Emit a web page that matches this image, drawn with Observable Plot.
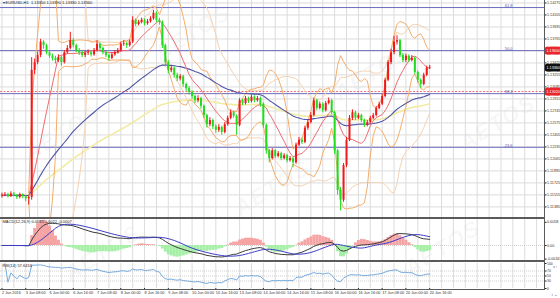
<!DOCTYPE html>
<html><head><meta charset="utf-8">
<script src="https://cdn.jsdelivr.net/npm/d3@7"></script>
<script src="https://cdn.jsdelivr.net/npm/@observablehq/plot@0.6"></script>
<style>
html,body{margin:0;padding:0;background:#fff;}
#chart{position:relative;width:560px;height:298px;overflow:hidden;background:#fff;font-family:"Liberation Sans",Arial,sans-serif;}
#chart svg{position:absolute;left:0;background:transparent;}
.hl{position:absolute;left:0;width:545px;background:#5a5a5a;}
.vl{position:absolute;left:544px;top:0;width:1px;height:290px;background:#5a5a5a;}
.wm{position:absolute;font:bold italic 22px "Liberation Sans",Arial,sans-serif;color:rgba(0,0,0,0.045);transform:rotate(-32deg);letter-spacing:2px;pointer-events:none;}
</style></head><body><div id="chart"></div>
<script>
// ---------- data (EURUSD, 2 Jun – 20 Jun 2016) ----------
const firstOpen = 1.1154;
const closes = [1.1155,1.1156,1.1153,1.1157,1.1155,1.1152,1.1156,1.1153,1.1150,1.1152,
1.1332,1.1343,1.1353,1.1372,1.1367,1.1357,1.1352,1.1349,1.1346,1.1350,
1.1343,1.1357,1.1363,1.1374,1.1367,1.1360,1.1357,1.1353,1.1356,1.1357,
1.1354,1.1360,1.1369,1.1363,1.1357,1.1353,1.1349,1.1354,1.1357,1.1360,
1.1369,1.1370,1.1367,1.1372,1.1403,1.1397,1.1400,1.1403,1.1398,1.1401,
1.1405,1.1413,1.1403,1.1400,1.1367,1.1343,1.1332,1.1335,1.1325,1.1320,
1.1323,1.1312,1.1306,1.1301,1.1295,1.1289,1.1292,1.1281,1.1268,1.1255,
1.1261,1.1252,1.1247,1.1251,1.1244,1.1255,1.1264,1.1272,1.1267,1.1254,
1.1289,1.1285,1.1292,1.1288,1.1294,1.1289,1.1292,1.1284,1.1254,1.1218,
1.1207,1.1218,1.1210,1.1214,1.1207,1.1211,1.1204,1.1207,1.1201,1.1226,
1.1233,1.1230,1.1250,1.1258,1.1268,1.1289,1.1278,1.1284,1.1275,1.1285,
1.1289,1.1272,1.1218,1.1162,1.1148,1.1197,1.1233,1.1264,1.1272,1.1264,
1.1268,1.1261,1.1254,1.1258,1.1264,1.1268,1.1278,1.1284,1.1295,1.1318,
1.1343,1.1357,1.1372,1.1374,1.1353,1.1346,1.1352,1.1346,1.1349,1.1329,
1.1318,1.1312,1.1325,1.1335,1.1336];
const highs = [1.1158,1.1159,1.1158,1.1160,1.1159,1.1156,1.1158,1.1157,1.1155,1.1154,
1.1350,1.1348,1.1358,1.1376,1.1374,1.1369,1.1360,1.1355,1.1352,1.1354,
1.1352,1.1360,1.1367,1.1386,1.1377,1.1369,1.1363,1.1359,1.1359,1.1361,
1.1359,1.1363,1.1374,1.1371,1.1365,1.1359,1.1355,1.1357,1.1360,1.1363,
1.1372,1.1374,1.1372,1.1375,1.1408,1.1405,1.1403,1.1406,1.1405,1.1404,
1.1408,1.1417,1.1415,1.1406,1.1402,1.1369,1.1346,1.1339,1.1337,1.1328,
1.1326,1.1325,1.1314,1.1309,1.1303,1.1297,1.1296,1.1294,1.1283,1.1270,
1.1265,1.1263,1.1255,1.1255,1.1253,1.1258,1.1267,1.1276,1.1274,1.1269,
1.1292,1.1291,1.1295,1.1294,1.1297,1.1296,1.1295,1.1294,1.1286,1.1256,
1.1220,1.1221,1.1220,1.1217,1.1216,1.1214,1.1213,1.1210,1.1209,1.1229,
1.1237,1.1236,1.1253,1.1262,1.1272,1.1292,1.1291,1.1287,1.1286,1.1288,
1.1293,1.1291,1.1274,1.1220,1.1166,1.1200,1.1237,1.1268,1.1276,1.1274,
1.1271,1.1270,1.1263,1.1261,1.1267,1.1271,1.1281,1.1287,1.1298,1.1321,
1.1346,1.1362,1.1380,1.1381,1.1376,1.1356,1.1355,1.1354,1.1353,1.1351,
1.1331,1.1320,1.1328,1.1338,1.1339];
const lows = [1.1151,1.1153,1.1151,1.1152,1.1153,1.1149,1.1150,1.1150,1.1146,1.1141,
1.1148,1.1326,1.1340,1.1350,1.1362,1.1354,1.1349,1.1345,1.1341,1.1343,
1.1338,1.1341,1.1355,1.1361,1.1364,1.1357,1.1353,1.1350,1.1350,1.1353,
1.1351,1.1352,1.1358,1.1360,1.1354,1.1350,1.1345,1.1347,1.1352,1.1355,
1.1358,1.1366,1.1363,1.1365,1.1370,1.1394,1.1395,1.1398,1.1395,1.1396,
1.1399,1.1403,1.1400,1.1396,1.1363,1.1338,1.1327,1.1329,1.1321,1.1316,
1.1317,1.1308,1.1302,1.1297,1.1291,1.1285,1.1286,1.1277,1.1264,1.1250,
1.1252,1.1248,1.1243,1.1244,1.1240,1.1242,1.1253,1.1262,1.1264,1.1240,
1.1252,1.1282,1.1283,1.1285,1.1286,1.1286,1.1287,1.1280,1.1250,1.1213,
1.1201,1.1205,1.1207,1.1208,1.1204,1.1205,1.1201,1.1202,1.1194,1.1199,
1.1224,1.1227,1.1228,1.1247,1.1256,1.1266,1.1275,1.1276,1.1272,1.1273,
1.1283,1.1269,1.1213,1.1155,1.1133,1.1145,1.1194,1.1231,1.1261,1.1261,
1.1262,1.1258,1.1251,1.1252,1.1256,1.1262,1.1266,1.1276,1.1282,1.1293,
1.1316,1.1340,1.1354,1.1368,1.1350,1.1343,1.1343,1.1343,1.1344,1.1326,
1.1314,1.1306,1.1310,1.1323,1.1333];
const dateLabels = ["2 Jun 2016","3 Jun 08:00","6 Jun 00:00","6 Jun 16:00","7 Jun 08:00","8 Jun 00:00",
"8 Jun 16:00","9 Jun 08:00","10 Jun 00:00","10 Jun 16:00","13 Jun 08:00","14 Jun 00:00","14 Jun 16:00",
"15 Jun 08:00","16 Jun 00:00","16 Jun 16:00","17 Jun 08:00","20 Jun 00:00","20 Jun 16:00"];
const barsPerLabel = 8;
const barsPerGrid = 4;
const priceTicks = [1.14275,1.14105,1.13935,1.13765,1.13595,1.13425,1.13255,1.13085,1.12915,1.12745,
1.12575,1.12405,1.12235,1.12065,1.11895,1.11725,1.11555,1.11385];
const fibLevels = [1.1421, 1.1360, 1.1299, 1.1223];
const fibNames = ["61.8", "50.0", "38.2", "23.6"];
const alertLevels = [1.1360, 1.1302];
const macdTicks = [0.0058, 0, -0.0034];
const macdTickText = ["0.0058", "0.00", "-0.0034"];
const rsiTicks = [100, 70, 50, 30, 0];
const rsiLevels = [70, 50, 30];

// ---------- scales / layout ----------
const xDomain = [-0.5, 182.66];
const priceDomain = [1.11235, 1.1431];
const macdDomain = [-0.00375, 0.0065];
const FONT = '"Liberation Sans", Arial, sans-serif';
const UP = "#f01818", DOWN = "#1fdc1f";
const AX = 3.7;   // price-scale font size

// ---------- indicators ----------
const n = closes.length;
const bars = closes.map((c, i) => ({i, open: i ? closes[i-1] : firstOpen, close: c, high: highs[i], low: lows[i]}));
function ema(v, p) { const a = 2/(p+1); let e = v[0]; return v.map((x, i) => (e = i ? e + a*(x - e) : x)); }
function bb(p, k) {
  const out = [];
  for (let i = p - 1; i < n; i++) {
    const w = closes.slice(i - p + 1, i + 1);
    const m = d3.mean(w);
    const sd = Math.sqrt(d3.mean(w, v => (v - m) ** 2));
    out.push({i, mid: m, up: m + k*sd, lo: m - k*sd});
  }
  return out;
}
const bb10 = bb(10, 2), bb20 = bb(20, 2);
const ema50 = ema(closes, 50).map((v, i) => ({i, v}));
const ema100 = ema(closes, 100).map((v, i) => ({i, v}));
const e12 = ema(closes, 12), e26 = ema(closes, 26);
const macd = closes.map((_, i) => e12[i] - e26[i]);
const signal = macd.map((_, i) => d3.mean(macd.slice(Math.max(0, i - 8), i + 1)));
const macdRows = macd.map((m, i) => ({i, m, s: signal[i], h: 2*(m - signal[i])}));
const rsi = [];
{ let ag = 0, al = 0;
  for (let i = 1; i < n; i++) {
    const d = closes[i] - closes[i-1], g = Math.max(d, 0), l = Math.max(-d, 0);
    if (i <= 14) { ag = (ag*(i-1) + g)/i; al = (al*(i-1) + l)/i; }
    else { ag = (ag*13 + g)/14; al = (al*13 + l)/14; }
    rsi.push({i, v: al === 0 ? 100 : 100 - 100/(1 + ag/al)});
  }
}
const last = bars[n-1];
const gridTicks = d3.range(0, 183, barsPerGrid);

const root = document.getElementById("chart");
// faint broker watermark
[[150,20],[330,60],[455,110],[20,120],[230,175],[60,240],[400,235]].forEach(([l,t]) => {
  const w = document.createElement("div"); w.className = "wm"; w.textContent = "AETOS";
  w.style.left = l + "px"; w.style.top = t + "px"; root.appendChild(w);
});
function place(svg, top) { svg.style.top = top + "px"; root.appendChild(svg); }
const baseStyle = {fontFamily: FONT, fontSize: "5px", color: "#222", background: "transparent"};

// ---------- main price panel ----------
const main = Plot.plot({
  width: 560, height: 217, marginLeft: 0, marginRight: 16, marginTop: 0, marginBottom: 0,
  style: baseStyle,
  x: {domain: xDomain, axis: null},
  y: {domain: priceDomain, axis: null},
  marks: [
    Plot.gridX({ticks: gridTicks, stroke: "#dcdcdc", strokeOpacity: 1}),
    Plot.gridY({ticks: priceTicks, stroke: "#dcdcdc", strokeOpacity: 1}),
    Plot.ruleY(fibLevels, {stroke: "#6c6cbf", strokeWidth: 1}),
    Plot.ruleY([alertLevels[1]], {stroke: "#f07070", strokeDasharray: "2,1.5"}),
    Plot.line(ema100, {x: "i", y: "v", stroke: "#f2eba4", strokeWidth: 1.6}),
    Plot.line(bb20, {x: "i", y: "up", stroke: "#f5d2b2", strokeWidth: 1}),
    Plot.line(bb20, {x: "i", y: "lo", stroke: "#f5d2b2", strokeWidth: 1}),
    Plot.line(bb10, {x: "i", y: "up", stroke: "#f4ad6a", strokeWidth: 1}),
    Plot.line(bb10, {x: "i", y: "lo", stroke: "#f4ad6a", strokeWidth: 1}),
    Plot.line(ema50, {x: "i", y: "v", stroke: "#4f55a8", strokeWidth: 1.1}),
    Plot.line(bb10, {x: "i", y: "mid", stroke: "#ee6b72", strokeWidth: 1}),
    Plot.ruleX(bars, {x: "i", y1: "low", y2: "high", stroke: d => d.close >= d.open ? UP : DOWN, strokeWidth: 1}),
    Plot.ruleX(bars, {x: "i", y1: "open", y2: "close", stroke: d => d.close >= d.open ? UP : DOWN, strokeWidth: 2}),
    Plot.axisY({anchor: "right", ticks: priceTicks, tickFormat: d => d.toFixed(5), tickSize: 1.5, tickPadding: 1, fontSize: AX, fill: "#333"}),
    Plot.text(fibLevels, {y: d => d, text: (d, i) => fibNames[i], frameAnchor: "right", textAnchor: "end", dx: -32, dy: -2, fontSize: 4, fill: "#5a5aa8"}),
    Plot.text(alertLevels, {y: d => d, text: d => d.toFixed(5), frameAnchor: "right", textAnchor: "start", dx: 2, fontSize: AX, fill: "#fff", stroke: "#e8262b", strokeWidth: 5, paintOrder: "stroke"}),
    Plot.text([last.close], {y: d => d, text: d => d.toFixed(5), frameAnchor: "right", textAnchor: "start", dx: 2, fontSize: AX, fill: "#fff", stroke: "#111", strokeWidth: 5, paintOrder: "stroke"}),
    Plot.text([`\u25BE EURUSD,H1  ${last.open.toFixed(5)} ${last.high.toFixed(5)} ${last.low.toFixed(5)} ${last.close.toFixed(5)}`],
      {frameAnchor: "top-left", lineAnchor: "top", dx: 2, dy: 1, fontSize: 4, fill: "#222"})
  ]
});
place(main, 0);

// ---------- MACD panel ----------
const lm = macdRows[n-1];
const macdPlot = Plot.plot({
  width: 560, height: 41, marginLeft: 0, marginRight: 16, marginTop: 0, marginBottom: 0,
  style: baseStyle,
  x: {domain: xDomain, axis: null},
  y: {domain: macdDomain, axis: null},
  marks: [
    Plot.gridX({ticks: gridTicks, stroke: "#dcdcdc", strokeOpacity: 1}),
    Plot.ruleY([0], {stroke: "#d0d0d0", strokeDasharray: "1,1"}),
    Plot.ruleX(macdRows, {x: "i", y1: 0, y2: "h", stroke: d => d.h >= 0 ? "#f6a3a3" : "#a6efa6", strokeWidth: 3, clip: true}),
    Plot.line(macdRows, {x: "i", y: "m", stroke: "#3a3a3a", strokeWidth: 1, clip: true}),
    Plot.line(macdRows, {x: "i", y: "s", stroke: "#3c3cc8", strokeWidth: 1, clip: true}),
    Plot.axisY({anchor: "right", ticks: macdTicks, tickFormat: (d, i) => macdTickText[i], tickSize: 1.5, tickPadding: 1, fontSize: AX, fill: "#333"}),
    Plot.text([`MACD(12,26,9) ${lm.m.toFixed(4)} ${lm.s.toFixed(4)} ${(lm.m - lm.s).toFixed(4)}`],
      {frameAnchor: "top-left", lineAnchor: "top", dx: 2, dy: 1, fontSize: 4, fill: "#222"})
  ]
});
place(macdPlot, 219);

// ---------- RSI panel + time axis ----------
const rsiPlot = Plot.plot({
  width: 560, height: 36, marginLeft: 0, marginRight: 16, marginTop: 1, marginBottom: 10,
  style: baseStyle,
  x: {domain: xDomain, axis: null},
  y: {domain: [0, 100], axis: null},
  marks: [
    Plot.gridX({ticks: gridTicks, stroke: "#dcdcdc", strokeOpacity: 1}),
    Plot.ruleY(rsiLevels, {stroke: "#cfcfcf", strokeDasharray: "1,1"}),
    Plot.line(rsi, {x: "i", y: "v", stroke: "#74abe0", strokeWidth: 1}),
    Plot.axisY({anchor: "right", ticks: rsiTicks, tickSize: 1.5, tickPadding: 1, fontSize: 3.4, fill: "#333"}),
    Plot.axisX({ticks: d3.range(0, n, barsPerLabel), tickFormat: d => dateLabels[d / barsPerLabel], textAnchor: "start", tickSize: 2, tickPadding: 1, fontSize: 3.8, fill: "#333"}),
    Plot.text([`RSI(14) ${rsi[rsi.length-1].v.toFixed(4)}`],
      {frameAnchor: "top-left", lineAnchor: "top", dx: 2, dy: 1, fontSize: 4, fill: "#222"})
  ]
});
place(rsiPlot, 262);

// panel separators and price-scale border
[[217, 2], [260, 2], [289, 1]].forEach(([t, h]) => {
  const d = document.createElement("div"); d.className = "hl"; d.style.top = t + "px"; d.style.height = h + "px"; root.appendChild(d);
});
const v = document.createElement("div"); v.className = "vl"; root.appendChild(v);
</script></body></html>
